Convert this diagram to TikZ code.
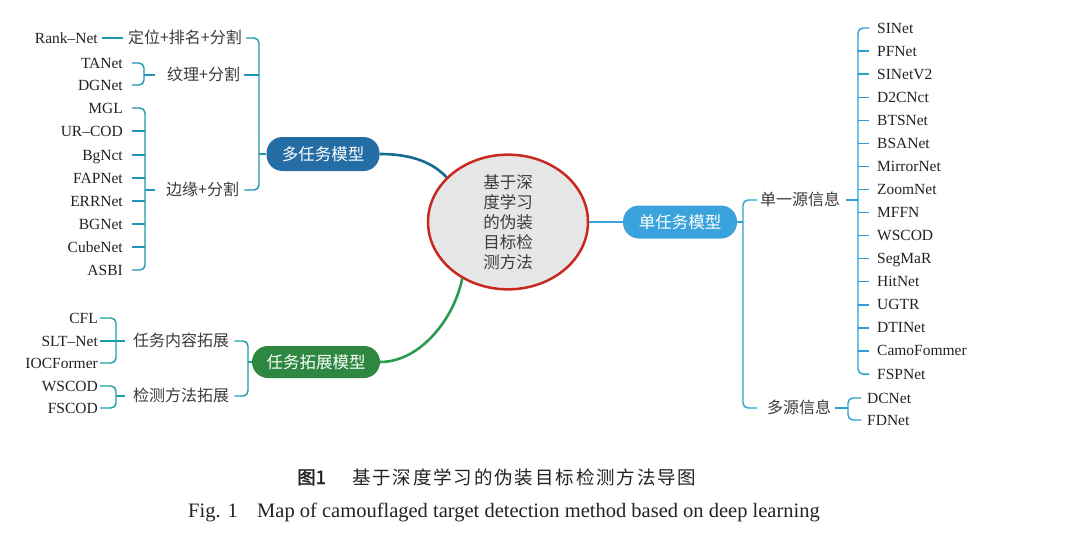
\documentclass[tikz,border=0pt]{standalone}
\usepackage{fontspec}
\setmainfont{Liberation Serif}
\newfontfamily\cjk{Noto Sans CJK SC}[AutoFakeBold=2]
\newfontfamily\cjkcap{Noto Sans CJK SC}[LetterSpace=10,AutoFakeBold=2]
\usetikzlibrary{shapes.geometric}
\definecolor{txt}{RGB}{35,35,35}
\definecolor{ctxt}{RGB}{60,60,60}
\definecolor{mtc}{RGB}{37,110,165}
\definecolor{mtl}{RGB}{22,105,145}
\definecolor{tkc}{RGB}{45,135,65}
\definecolor{tkl}{RGB}{40,155,80}
\definecolor{stc}{RGB}{58,162,220}
\definecolor{brl}{RGB}{30,150,180}
\definecolor{brg}{RGB}{25,160,165}
\definecolor{brr}{RGB}{40,162,210}
\definecolor{ellf}{RGB}{230,230,230}
\definecolor{elld}{RGB}{200,40,30}
\tikzset{
  nm/.style={font=\fontsize{15.5}{18}\selectfont, text=txt, inner sep=0pt, text height=12pt, text depth=2pt},
  cj/.style={font=\cjk\fontsize{16}{20}\selectfont, text=ctxt, inner sep=0pt, text height=13pt, text depth=2pt},
  pill/.style={rectangle, rounded corners=16pt, text=white, font=\cjk\fontsize{16.5}{20}\selectfont, inner sep=0pt, minimum height=33pt},
  hub/.style={ellipse, draw=elld, fill=ellf, line width=2.5pt, minimum width=160pt, minimum height=130pt, inner sep=0pt, align=center, text=ctxt, font=\cjk\fontsize{16.5}{20}\selectfont},
  brL/.style={draw=brl, line width=1.4pt, rounded corners=5pt},
  brG/.style={draw=brg, line width=1.4pt, rounded corners=5pt},
  brR/.style={draw=brr, line width=1.4pt, rounded corners=5pt},
  conn/.style={line width=2.6pt}
}
\begin{document}
\begin{tikzpicture}[x=1pt,y=-1pt]
\path[use as bounding box] (0,0) rectangle (1066,538);
\fill[white] (0,0) rectangle (1066,538);

% hub and main branches
\node[hub] (ell) at (508,222) {基于深\\度学习\\的伪装\\目标检\\测方法};
\node[pill, fill=mtc, minimum width=113pt, minimum height=34pt] (mt) at (323,154) {多任务模型};
\node[pill, fill=tkc, minimum width=128pt, minimum height=32pt] (tk) at (316,362) {任务拓展模型};
\node[pill, fill=stc, minimum width=114pt] (st) at (680,222) {单任务模型};

\draw[conn, draw=mtl] (mt.east) .. controls +(35,0) and +(-12,-13) .. (ell.144);
\draw[conn, draw=tkl] (tk.east) .. controls +(40,0) and +(-8,40) .. (ell.231);
\draw[conn, draw=stc] (ell.east) -- (st.west);

% ---------- multi-task branch ----------
\node[cj, anchor=east] (l1) at (242,38) {定位+排名+分割};
\node[cj, anchor=west] (l2) at (167,75) {纹理+分割};
\node[cj, anchor=west] (l3) at (166,190) {边缘+分割};
\coordinate (sA) at (259,154);
\draw[brL] ([xshift=4]l1.east) -| (sA) |- ([xshift=5]l3.east);
\draw[brL] ([xshift=4]l2.east) -- (l2.east -| sA);
\draw[brL] (mt.west) -- (sA);

\node[nm, anchor=east] (rk) at (98,38) {Rank–Net};
\draw[brL] ([xshift=4]rk.east) -- ([xshift=-5]l1.west);

\node[nm, anchor=east] (ta) at (123,63) {TANet};
\node[nm, anchor=east] (dg) at (123,85) {DGNet};
\coordinate (sB) at (144,75);
\draw[brL] ([xshift=9]ta.east) -| (sB) |- ([xshift=9]dg.east);
\draw[brL] (sB) -- ([xshift=-12]l2.west);

\foreach \n/\y [count=\i] in {MGL/108,UR–COD/131,BgNct/155,FAPNet/178,ERRNet/201,BGNet/224,CubeNet/247,ASBI/270}
  \node[nm, anchor=east] (m\i) at (123,\y) {\n};
\coordinate (sC) at (145,190);
\draw[brL] ([xshift=9]m1.east) -| (sC) |- ([xshift=9]m8.east);
\foreach \i in {2,...,7} \draw[brL] ([xshift=9]m\i.east) -- (m\i.east -| sC);
\draw[brL] (sC) -- ([xshift=-11]l3.west);

% ---------- task extension branch ----------
\node[cj, anchor=west] (l4) at (133,341) {任务内容拓展};
\node[cj, anchor=west] (l5) at (133,396) {检测方法拓展};
\coordinate (sF) at (248,362);
\draw[brG] ([xshift=5]l4.east) -| (sF) |- ([xshift=5]l5.east);
\draw[brG] (tk.west) -- (sF);

\node[nm, anchor=east] (cf) at (98,318) {CFL};
\node[nm, anchor=east] (sl) at (98,341) {SLT–Net};
\node[nm, anchor=east] (io) at (98,363) {IOCFormer};
\coordinate (sD) at (116,341);
\draw[brG] ([xshift=2]cf.east) -| (sD) |- ([xshift=2]io.east);
\draw[brG] ([xshift=2]sl.east) -- ([xshift=-8]l4.west);

\node[nm, anchor=east] (ws) at (98,386) {WSCOD};
\node[nm, anchor=east] (fs) at (98,408) {FSCOD};
\coordinate (sE) at (116,396);
\draw[brG] ([xshift=2]ws.east) -| (sE) |- ([xshift=2]fs.east);
\draw[brG] (sE) -- ([xshift=-8]l5.west);

% ---------- single-task branch ----------
\node[cj, anchor=west] (l6) at (760,200) {单一源信息};
\node[cj, anchor=west] (l7) at (767,408) {多源信息};
\coordinate (sG) at (743,222);
\draw[brR] ([xshift=-3]l6.west) -| (sG) |- ([xshift=-10]l7.west);
\draw[brR] (st.east) -- (sG);

\foreach \n [count=\i] in {SINet,PFNet,SINetV2,D2CNct,BTSNet,BSANet,MirrorNet,ZoomNet,MFFN,WSCOD,SegMaR,HitNet,UGTR,DTINet,CamoFommer,FSPNet}
  \node[nm, anchor=west] (r\i) at (877,{28+23.07*(\i-1)}) {\n};
\coordinate (sH) at (858,200);
\draw[brR] ([xshift=-8]r1.west) -| (sH) |- ([xshift=-8]r16.west);
\foreach \i in {2,...,15} \draw[brR] (r\i.west -| sH) -- ([xshift=-8]r\i.west);
\draw[brR] ([xshift=6]l6.east) -- (sH);

\node[nm, anchor=west] (dc) at (867,398) {DCNet};
\node[nm, anchor=west] (fd) at (867,420) {FDNet};
\coordinate (sI) at (848,408);
\draw[brR] ([xshift=-6]dc.west) -| (sI) |- ([xshift=-6]fd.west);
\draw[brR] ([xshift=4]l7.east) -- (sI);

% ---------- caption ----------
\node[anchor=base west, inner sep=0pt, text=txt, font=\cjk\bfseries\fontsize{18.5}{22}\selectfont] (c1) at (297,484) {图1};
\node[anchor=base west, inner sep=0pt, text=txt, font=\cjkcap\fontsize{18.5}{22}\selectfont] (c2) at (352,484) {基于深度学习的伪装目标检测方法导图};
\node[anchor=base west, inner sep=0pt, text=txt, font=\fontsize{20.5}{24}\selectfont] (c3) at (188,517) {Fig. 1};
\node[anchor=base west, inner sep=0pt, text=txt, font=\fontsize{20.5}{24}\selectfont] (c4) at (257,517) {Map of camouflaged target detection method based on deep learning};
\end{tikzpicture}
\end{document}
